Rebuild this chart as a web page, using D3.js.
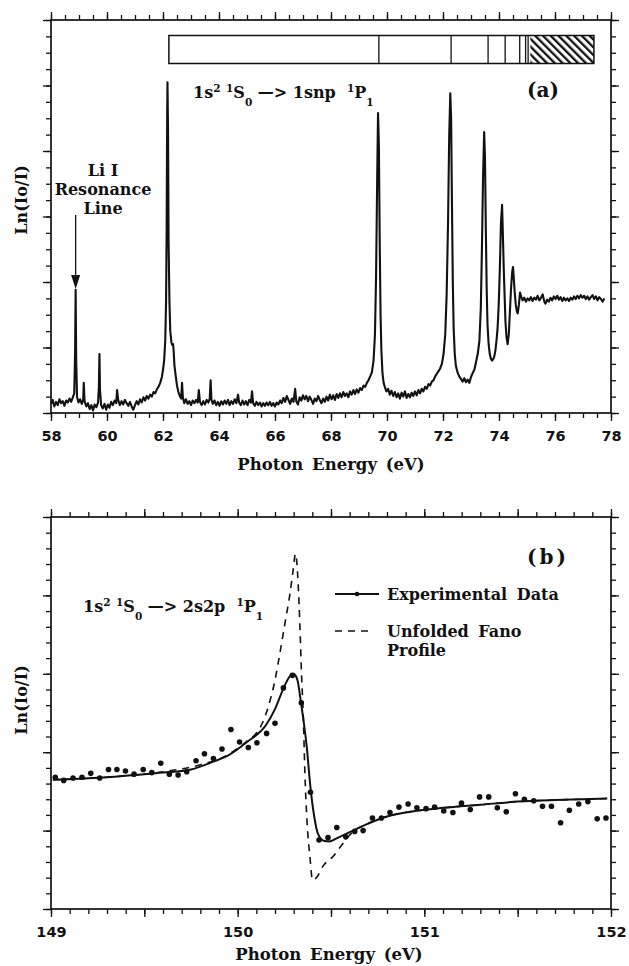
<!DOCTYPE html>
<html lang="en">
<head>
<meta charset="UTF-8">
<title>Li+ photoabsorption</title>
<style>
  body { margin: 0; background: #fff; }
  svg text { font-family: 'DejaVu Serif', serif; font-weight: bold; fill: #111; }
  .tick text { font-family: 'DejaVu Sans', sans-serif; font-weight: bold; font-size: 14.5px; }
</style>
</head>
<body>
<svg id="svg" width="629" height="966"></svg>
<script src="https://d3js.org/d3.v7.min.js"></script>
<script>
// ---- panel (a): survey spectrum, [photon energy eV, Ln(Io/I)]
const spectrumA = [
  [58.00,0.14],[58.06,0.20],[58.12,0.10],[58.18,0.17],[58.24,0.12],[58.30,0.21],[58.36,0.15],[58.42,0.18],
  [58.48,0.11],[58.54,0.19],[58.60,0.16],[58.66,0.22],[58.72,0.17],[58.78,0.24],[58.83,0.30],[58.86,0.90],
  [58.88,1.88],[58.90,0.80],[58.93,0.25],[58.98,0.16],[59.04,0.21],[59.10,0.14],[59.15,0.20],[59.17,0.46],
  [59.20,0.18],[59.26,0.10],[59.32,0.15],[59.38,0.06],[59.44,0.12],[59.50,0.04],[59.56,0.13],[59.62,0.09],
  [59.68,0.16],[59.71,0.40],[59.73,0.90],[59.75,0.35],[59.79,0.12],[59.85,0.07],[59.91,0.14],[59.97,0.05],
  [60.03,0.13],[60.09,0.08],[60.15,0.17],[60.21,0.12],[60.27,0.19],[60.33,0.15],[60.36,0.35],[60.40,0.20],
  [60.46,0.12],[60.52,0.18],[60.58,0.13],[60.64,0.20],[60.70,0.15],[60.76,0.11],[60.82,0.17],[60.88,0.10],
  [60.94,0.05],[61.00,0.12],[61.06,0.18],[61.12,0.13],[61.18,0.21],[61.24,0.16],[61.30,0.24],[61.36,0.19],
  [61.42,0.26],[61.48,0.22],[61.54,0.28],[61.60,0.25],[61.66,0.32],[61.72,0.30],[61.78,0.36],[61.84,0.40],
  [61.90,0.46],[61.96,0.55],[62.00,0.66],[62.04,0.80],[62.08,1.10],[62.11,1.70],[62.13,2.80],[62.15,4.60],
  [62.16,5.05],[62.18,4.30],[62.20,2.60],[62.23,1.70],[62.26,1.25],[62.30,1.08],[62.33,1.04],[62.36,1.05],
  [62.38,0.95],[62.41,0.72],[62.45,0.58],[62.50,0.42],[62.55,0.32],[62.60,0.26],[62.65,0.22],[62.68,0.46],
  [62.71,0.24],[62.76,0.15],[62.82,0.21],[62.88,0.14],[62.94,0.18],[63.00,0.12],[63.06,0.19],[63.12,0.15],
  [63.18,0.20],[63.24,0.16],[63.28,0.35],[63.32,0.17],[63.38,0.12],[63.44,0.18],[63.50,0.13],[63.56,0.20],
  [63.62,0.16],[63.67,0.22],[63.70,0.50],[63.73,0.20],[63.78,0.14],[63.84,0.19],[63.90,0.12],[63.96,0.17],
  [64.02,0.11],[64.08,0.18],[64.14,0.13],[64.20,0.19],[64.26,0.14],[64.32,0.20],[64.38,0.12],[64.44,0.18],
  [64.50,0.14],[64.56,0.21],[64.62,0.15],[64.68,0.28],[64.72,0.16],[64.78,0.12],[64.84,0.19],[64.90,0.13],
  [64.96,0.18],[65.02,0.12],[65.08,0.20],[65.14,0.16],[65.18,0.33],[65.22,0.15],[65.28,0.11],[65.34,0.17],
  [65.40,0.12],[65.46,0.16],[65.52,0.10],[65.58,0.15],[65.64,0.11],[65.70,0.16],[65.76,0.12],[65.82,0.17],
  [65.88,0.11],[65.94,0.15],[66.00,0.10],[66.06,0.16],[66.12,0.13],[66.18,0.19],[66.24,0.15],[66.30,0.23],
  [66.36,0.17],[66.42,0.26],[66.48,0.20],[66.54,0.14],[66.60,0.22],[66.66,0.17],[66.72,0.37],[66.76,0.18],
  [66.82,0.13],[66.88,0.24],[66.94,0.19],[67.00,0.27],[67.06,0.21],[67.12,0.26],[67.18,0.18],[67.24,0.25],
  [67.30,0.20],[67.36,0.14],[67.42,0.22],[67.48,0.18],[67.54,0.26],[67.60,0.20],[67.66,0.15],[67.72,0.22],
  [67.78,0.17],[67.84,0.25],[67.90,0.19],[67.96,0.28],[68.02,0.21],[68.08,0.27],[68.14,0.20],[68.20,0.29],
  [68.26,0.23],[68.32,0.30],[68.38,0.24],[68.44,0.32],[68.50,0.26],[68.56,0.30],[68.62,0.24],[68.68,0.33],
  [68.74,0.28],[68.80,0.35],[68.86,0.29],[68.92,0.36],[68.98,0.31],[69.04,0.38],[69.10,0.35],[69.16,0.42],
  [69.22,0.40],[69.28,0.46],[69.34,0.50],[69.40,0.56],[69.46,0.62],[69.52,0.80],[69.57,1.20],[69.61,2.10],
  [69.65,3.60],[69.68,4.58],[69.71,4.10],[69.74,2.60],[69.77,1.50],[69.80,0.95],[69.84,0.60],[69.88,0.46],
  [69.92,0.40],[69.98,0.33],[70.04,0.37],[70.10,0.28],[70.16,0.34],[70.22,0.26],[70.28,0.32],[70.34,0.24],
  [70.40,0.30],[70.46,0.22],[70.52,0.31],[70.58,0.25],[70.64,0.33],[70.70,0.23],[70.76,0.29],[70.82,0.24],
  [70.88,0.31],[70.94,0.26],[71.00,0.33],[71.06,0.27],[71.12,0.35],[71.18,0.30],[71.24,0.37],[71.30,0.33],
  [71.36,0.40],[71.42,0.37],[71.48,0.44],[71.54,0.42],[71.60,0.48],[71.66,0.50],[71.72,0.56],[71.78,0.60],
  [71.84,0.64],[71.90,0.68],[71.96,0.75],[72.02,0.90],[72.08,1.20],[72.13,1.80],[72.18,2.90],[72.22,4.20],
  [72.26,4.88],[72.29,4.50],[72.32,3.20],[72.35,2.00],[72.38,1.30],[72.42,0.90],[72.46,0.72],[72.52,0.62],
  [72.58,0.56],[72.64,0.52],[72.70,0.48],[72.76,0.53],[72.82,0.47],[72.88,0.51],[72.94,0.46],[73.00,0.55],
  [73.06,0.61],[73.12,0.66],[73.18,0.78],[73.24,0.90],[73.30,1.10],[73.35,1.60],[73.39,2.50],[73.43,3.60],
  [73.47,4.29],[73.50,3.90],[73.53,2.80],[73.56,1.90],[73.59,1.35],[73.63,1.05],[73.67,0.90],[73.71,0.83],
  [73.75,0.80],[73.79,0.82],[73.83,0.86],[73.87,0.95],[73.91,1.10],[73.95,1.30],[73.99,1.65],[74.03,2.20],
  [74.07,2.90],[74.11,3.18],[74.14,2.70],[74.17,2.20],[74.20,1.80],[74.23,1.40],[74.27,1.15],[74.31,1.05],
  [74.35,1.20],[74.39,1.55],[74.43,1.90],[74.47,2.15],[74.50,2.23],[74.53,2.05],[74.56,1.85],[74.60,1.65],
  [74.64,1.55],[74.67,1.52],[74.71,1.65],[74.75,1.84],[74.79,1.78],[74.84,1.72],[74.90,1.76],[74.96,1.70],
  [75.02,1.75],[75.08,1.72],[75.14,1.77],[75.20,1.71],[75.26,1.76],[75.32,1.73],[75.38,1.79],[75.44,1.72],
  [75.50,1.76],[75.56,1.81],[75.62,1.70],[75.66,1.67],[75.72,1.73],[75.78,1.70],[75.84,1.76],[75.90,1.72],
  [75.96,1.78],[76.02,1.74],[76.08,1.79],[76.14,1.73],[76.20,1.77],[76.26,1.71],[76.32,1.76],[76.38,1.72],
  [76.44,1.75],[76.50,1.71],[76.56,1.76],[76.62,1.73],[76.68,1.78],[76.74,1.74],[76.80,1.79],[76.86,1.75],
  [76.92,1.80],[76.98,1.76],[77.04,1.79],[77.10,1.74],[77.16,1.78],[77.22,1.73],[77.28,1.77],[77.34,1.80],
  [77.40,1.74],[77.46,1.78],[77.52,1.72],[77.58,1.77],[77.64,1.74],[77.70,1.70],[77.76,1.75]
]

// Rydberg series levels drawn in the bar above the spectrum (eV)
const seriesLevels = [62.21, 69.71, 72.29, 73.61, 74.22, 74.74, 74.95, 75.04]
const continuumBand = [75.12, 77.39]
const resonanceLine = 58.88

const majorTicksA = [58, 60, 62, 64, 66, 68, 70, 72, 74, 76, 78]

// ---- panel (b): 2s2p resonance, experimental dots, fitted curve, unfolded Fano profile
const dotsB = [
  [149.023,1.68],[149.068,1.64],[149.118,1.67],[149.166,1.68],[149.213,1.73],[149.261,1.67],[149.308,1.78],
  [149.353,1.78],[149.399,1.76],[149.445,1.72],[149.494,1.78],[149.540,1.74],[149.588,1.86],[149.634,1.72],
  [149.681,1.71],[149.727,1.75],[149.777,1.89],[149.822,1.98],[149.870,1.92],[149.916,2.04],[149.964,2.29],
  [150.010,2.13],[150.057,2.06],[150.103,2.12],[150.155,2.24],[150.200,2.37],[150.245,2.82],[150.293,2.98],
  [150.341,2.63],[150.390,1.49],[150.436,0.88],[150.484,0.91],[150.531,1.04],[150.579,0.92],[150.627,0.99],
  [150.672,1.00],[150.722,1.16],[150.770,1.16],[150.816,1.23],[150.864,1.30],[150.913,1.34],[150.960,1.29],
  [151.009,1.28],[151.055,1.30],[151.104,1.25],[151.153,1.23],[151.199,1.35],[151.246,1.27],[151.296,1.43],
  [151.345,1.43],[151.391,1.29],[151.439,1.24],[151.488,1.47],[151.536,1.40],[151.586,1.38],[151.633,1.31],
  [151.681,1.31],[151.730,1.10],[151.777,1.26],[151.827,1.34],[151.876,1.37],[151.926,1.15],[151.973,1.16]
]

const fitB = [
  [149.01,1.65],[149.15,1.66],[149.30,1.68],[149.45,1.71],[149.60,1.74],[149.75,1.78],[149.87,1.88],
  [149.95,1.96],[150.05,2.13],[150.15,2.34],[150.20,2.55],[150.25,2.84],[150.28,2.97],[150.30,3.00],
  [150.32,2.92],[150.34,2.62],[150.37,2.07],[150.39,1.55],[150.41,1.18],[150.43,0.96],[150.46,0.87],
  [150.49,0.86],[150.53,0.90],[150.60,0.98],[150.68,1.07],[150.80,1.18],[150.95,1.25],[151.10,1.29],
  [151.30,1.33],[151.50,1.37],[151.70,1.39],[151.85,1.40],[151.98,1.41]
]

const fanoB = [
  [149.01,1.65],[149.30,1.68],[149.60,1.75],[149.80,1.84],[149.95,1.97],[150.00,2.05],[150.06,2.16],
  [150.092,2.22],[150.128,2.35],[150.164,2.58],[150.20,2.92],[150.226,3.26],[150.253,3.64],[150.28,4.02],
  [150.297,4.32],[150.31,4.53],[150.324,4.15],[150.333,3.64],[150.342,3.00],[150.351,2.50],[150.36,1.74],
  [150.372,1.10],[150.387,0.67],[150.401,0.37],[150.422,0.40],[150.458,0.55],[150.511,0.67],[150.565,0.84],
  [150.62,0.99],[150.68,1.07],[150.80,1.18],[150.95,1.25],[151.10,1.29],[151.30,1.33],[151.50,1.37],
  [151.70,1.39],[151.85,1.40],[151.98,1.41]
]

const majorTicksB = [149, 149.5, 150, 150.5, 151, 151.5, 152]
const labelTicksB = [149, 150, 151, 152]

const svg = d3.select('#svg')
svg.append('rect').attr('width', 629).attr('height', 966).attr('fill', '#fff')

const left = 51, right = 611

// scales
const xA = d3.scaleLinear().domain([58, 78]).range([left, right])
const yA = d3.scaleLinear().domain([0, 6]).range([413, 20])
const xB = d3.scaleLinear().domain([149, 152]).range([left, right])
const yB = d3.scaleLinear().domain([0, 5]).range([909, 517])

function drawAxes(x, y, xMinor, xMajor, xLabels, yMinor, yMajor) {
  const [x0, x1] = x.range()
  const [y0, y1] = y.range()
  const g = svg.append('g')
  const noDomain = a => a.call(s => s.select('.domain').remove())

  const sides = [
    [d3.axisBottom, `translate(0,${y0})`, x, xMinor, xMajor, true],
    [d3.axisTop, `translate(0,${y1})`, x, xMinor, xMajor, false],
    [d3.axisLeft, `translate(${x0},0)`, y, yMinor, yMajor, false],
    [d3.axisRight, `translate(${x1},0)`, y, yMinor, yMajor, false]
  ]
  sides.forEach(([axis, tr, sc, minor, major, labelled]) => {
    g.append('g').attr('transform', tr)
      .call(axis(sc).tickValues(minor).tickSize(5).tickFormat(''))
      .call(noDomain)
    const maj = g.append('g').attr('transform', tr)
      .call(axis(sc).tickValues(major).tickSize(8)
        .tickFormat(d => labelled && xLabels.includes(d) ? d : ''))
      .call(noDomain)
    if (labelled) maj.selectAll('text').attr('y', 28).attr('dy', 0).attr('fill', '#111')
  })
  g.selectAll('.tick line').attr('stroke', '#111').attr('stroke-width', 1.3)

  g.append('rect')
    .attr('x', x0).attr('y', y1)
    .attr('width', x1 - x0).attr('height', y0 - y1)
    .attr('fill', 'none').attr('stroke', '#111').attr('stroke-width', 1.7)
}

// superscript / subscript label
function levelText(x, y, parts) {
  const t = svg.append('text').attr('x', x).attr('y', y)
    .style('font-size', '16px').style('white-space', 'pre')
  let shift = 0
  parts.forEach(([s, kind]) => {
    const target = kind === 'sup' ? -6 : kind === 'sub' ? 8 : 0
    t.append('tspan').attr('dy', target - shift)
      .style('font-size', kind ? '10.5px' : '16px')
      .text(s)
    shift = target
  })
}

// ---------- panel (a)
drawAxes(xA, yA,
  d3.range(58, 78.01, 0.5), majorTicksA, majorTicksA,
  d3.range(0, 6.01, 0.25), d3.range(0, 6.01, 1))

svg.append('path')
  .datum(spectrumA)
  .attr('d', d3.line().x(d => xA(d[0])).y(d => yA(d[1])))
  .attr('fill', 'none')
  .attr('stroke', '#111')
  .attr('stroke-width', 2.1)
  .attr('stroke-linejoin', 'round')

// level bar
const defs = svg.append('defs')
defs.append('pattern')
  .attr('id', 'hatch').attr('patternUnits', 'userSpaceOnUse')
  .attr('width', 5.5).attr('height', 5.5)
  .attr('patternTransform', 'rotate(-45)')
  .append('rect').attr('x', 0).attr('y', 0).attr('width', 2.3).attr('height', 5.5).attr('fill', '#111')

const barTop = 35.5, barBottom = 63.5
svg.append('rect')
  .attr('x', xA(continuumBand[0])).attr('y', barTop)
  .attr('width', xA(continuumBand[1]) - xA(continuumBand[0]))
  .attr('height', barBottom - barTop)
  .attr('fill', 'url(#hatch)')
svg.append('rect')
  .attr('x', xA(seriesLevels[0])).attr('y', barTop)
  .attr('width', xA(continuumBand[1]) - xA(seriesLevels[0]))
  .attr('height', barBottom - barTop)
  .attr('fill', 'none').attr('stroke', '#111').attr('stroke-width', 1.5)
svg.selectAll('line.level')
  .data(seriesLevels.slice(1))
  .enter()
  .append('line')
  .attr('class', 'level')
  .attr('x1', d => xA(d)).attr('x2', d => xA(d))
  .attr('y1', barTop).attr('y2', barBottom)
  .attr('stroke', '#111').attr('stroke-width', 1.3)

levelText(193, 98, [['1s'], ['2', 'sup'], [' '], ['1', 'sup'], ['S'], ['0', 'sub'],
  [' —> 1snp  '], ['1', 'sup'], ['P'], ['1', 'sub']])

svg.append('text').attr('x', 527).attr('y', 97)
  .style('font-size', '20px').text('(a)')

// resonance line annotation
const labelX = 103
;['Li I', 'Resonance', 'Line'].forEach((s, i) => {
  svg.append('text').attr('x', labelX).attr('y', 176 + i * 19)
    .attr('text-anchor', 'middle').style('font-size', '16px').text(s)
})
const ax = xA(resonanceLine)
svg.append('line').attr('x1', ax).attr('x2', ax).attr('y1', 215).attr('y2', 278)
  .attr('stroke', '#111').attr('stroke-width', 1.3)
svg.append('path')
  .attr('d', d3.line()([[ax - 4.5, 275], [ax + 4.5, 275], [ax, 289]]) + 'Z')
  .attr('fill', '#111')

svg.append('text').attr('x', 331).attr('y', 470)
  .attr('text-anchor', 'middle').style('font-size', '16.5px').style('word-spacing', '3px')
  .text('Photon Energy (eV)')
svg.append('text')
  .attr('transform', 'translate(27,200) rotate(-90)')
  .attr('text-anchor', 'middle').style('font-size', '16px')
  .text('Ln(Io/I)')

// ---------- panel (b)
drawAxes(xB, yB,
  d3.range(149, 152.001, 0.1), majorTicksB, labelTicksB,
  d3.range(0, 5.001, 0.2), d3.range(0, 5.001, 1))

const lineB = (xs, ys) => d3.line().x(d => xs(d[0])).y(d => ys(d[1])).curve(d3.curveMonotoneX)

svg.append('path')
  .datum(fanoB)
  .attr('d', lineB(xB, yB))
  .attr('fill', 'none').attr('stroke', '#111')
  .attr('stroke-width', 1.6).attr('stroke-dasharray', '7,6')

svg.append('path')
  .datum(fitB)
  .attr('d', lineB(xB, yB))
  .attr('fill', 'none').attr('stroke', '#111').attr('stroke-width', 2)

svg.selectAll('circle.dot')
  .data(dotsB)
  .enter()
  .append('circle')
  .attr('class', 'dot')
  .attr('cx', d => xB(d[0]))
  .attr('cy', d => yB(d[1]))
  .attr('r', 2.8)
  .attr('fill', '#111')

levelText(83, 612, [['1s'], ['2', 'sup'], [' '], ['1', 'sup'], ['S'], ['0', 'sub'],
  [' —> 2s2p  '], ['1', 'sup'], ['P'], ['1', 'sub']])

svg.append('text').attr('x', 527).attr('y', 564)
  .style('font-size', '20px').style('letter-spacing', '3px').text('(b)')

// legend
svg.append('line').attr('x1', 335).attr('x2', 379).attr('y1', 594).attr('y2', 594)
  .attr('stroke', '#111').attr('stroke-width', 1.8)
svg.append('circle').attr('cx', 357).attr('cy', 594).attr('r', 2.3).attr('fill', '#111')
svg.append('text').attr('x', 387).attr('y', 600).style('font-size', '16px')
  .style('word-spacing', '4px').text('Experimental Data')

svg.append('line').attr('x1', 335).attr('x2', 371).attr('y1', 631).attr('y2', 631)
  .attr('stroke', '#111').attr('stroke-width', 1.6).attr('stroke-dasharray', '7,6')
svg.append('text').attr('x', 387).attr('y', 637).style('font-size', '16px')
  .style('word-spacing', '4px').text('Unfolded Fano')
svg.append('text').attr('x', 387).attr('y', 656).style('font-size', '16px')
  .text('Profile')

svg.append('text').attr('x', 329).attr('y', 960)
  .attr('text-anchor', 'middle').style('font-size', '16.5px').style('word-spacing', '3px')
  .text('Photon Energy (eV)')
svg.append('text')
  .attr('transform', 'translate(27,700) rotate(-90)')
  .attr('text-anchor', 'middle').style('font-size', '16px')
  .text('Ln(Io/I)')
</script>
</body>
</html>
